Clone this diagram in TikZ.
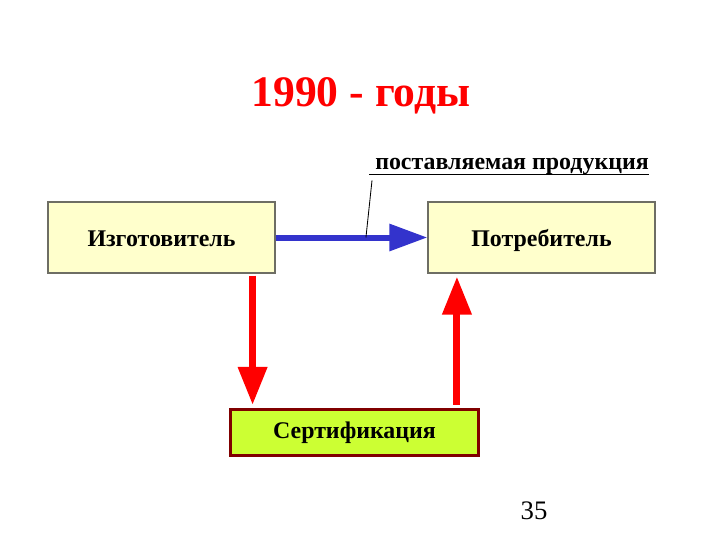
\documentclass[tikz,border=0pt]{standalone}
\usepackage{fontspec}
\setmainfont{Liberation Serif}
\usetikzlibrary{arrows.meta, positioning, calc}
\definecolor{boxyellow}{RGB}{255, 255, 204}
\definecolor{boxgray}{RGB}{110, 110, 100}
\definecolor{certgreen}{RGB}{204, 255, 51}
\definecolor{certborder}{RGB}{128, 0, 0}
\definecolor{flowblue}{RGB}{51, 51, 204}
\definecolor{checkred}{RGB}{255, 0, 0}

\begin{document}
\begin{tikzpicture}[x=0.025cm, y=-0.025cm,
  party/.style={draw=boxgray, line width=0.8pt, fill=boxyellow, minimum width=5.675cm, minimum height=1.775cm, text height=13pt, text depth=0pt, font=\fontsize{17}{20}\selectfont\bfseries},
  certbox/.style={draw=certborder, line width=2pt, fill=certgreen, minimum width=6.2cm, minimum height=1.15cm, text height=11pt, text depth=3pt, font=\fontsize{17}{20}\selectfont\bfseries},
  flowarrow/.style={-{Triangle[length=0.95cm, width=0.65cm]}, flowblue, line width=0.15cm},
  checkarrow/.style={-{Triangle[length=0.95cm, width=0.7cm]}, checkred, line width=0.175cm}]
  \useasboundingbox (0,0) rectangle (720,540);

  % Title
  \node[font=\fontsize{31}{34}\selectfont\bfseries, text=checkred] (title) at (361, 96) {1990 - годы};

  % Parties
  \node[party] (izg) at (161.5, 237.5) {Изготовитель};
  \node[party] (potr) at (541.5, 237.5) {Потребитель};

  % Certification
  \node[certbox] (cert) at (354.5, 432.5) {Сертификация};

  % Product flow
  \draw[flowarrow] (izg.east) -- (potr.west);
  \coordinate (hit) at ($(izg.east)!0.595!(potr.west)$);
  \node[anchor=base west, inner sep=0pt, font=\fontsize{17}{20}\selectfont\bfseries] (lbl) at (369, 169) {\ поставляемая продукция};
  \draw[line width=1.3pt] (lbl.south west) -- (lbl.south east);
  \draw[line width=0.6pt] ([shift={(3,6)}]lbl.south west) -- (hit);

  % Certification arrows
  \draw[checkarrow] ([xshift=-0.575cm, yshift=-0.05cm]izg.south east) -- ([xshift=-0.575cm, yshift=0.08cm]izg.south east |- cert.north);
  \draw[checkarrow] ([xshift=-0.575cm, yshift=0.08cm]cert.north east) -- ([xshift=-0.575cm, yshift=-0.075cm]cert.north east |- potr.south);

  % Page number
  \node[font=\fontsize{19}{22}\selectfont] (page) at (534, 511) {35};
\end{tikzpicture}
\end{document}
